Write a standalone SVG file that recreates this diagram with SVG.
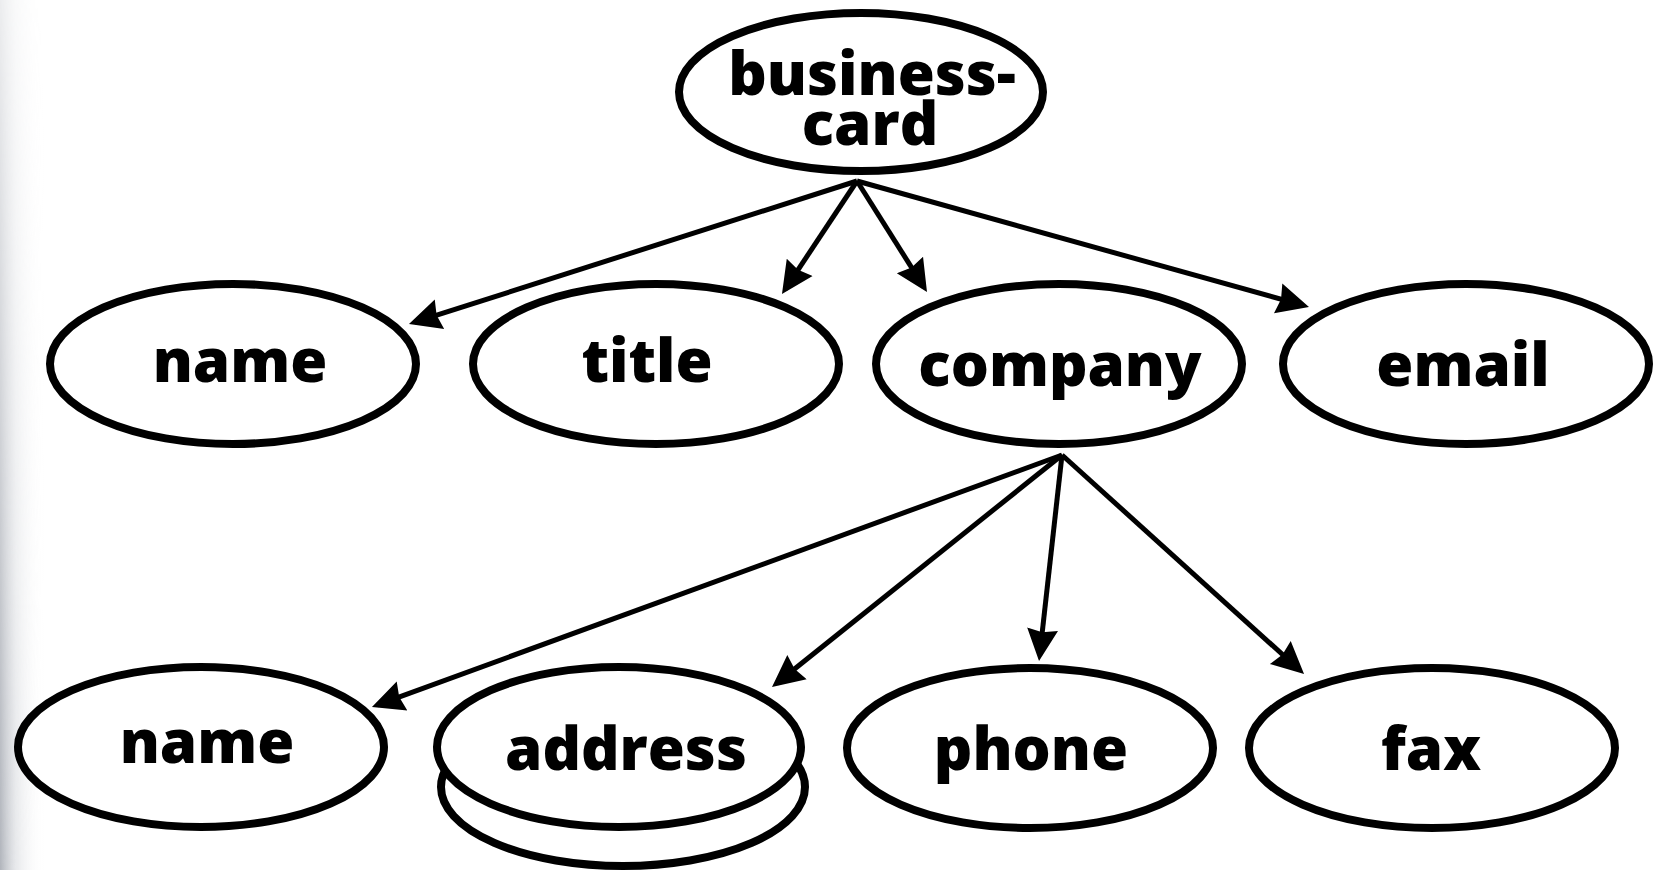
<svg xmlns="http://www.w3.org/2000/svg" width="1655" height="870" viewBox="0 0 1655 870">
  <defs>
    <style>
      .node ellipse { fill: #ffffff; stroke: #000000; stroke-width: 8; }
      .node text { font-family: "Open Sans", "Noto Sans", "DejaVu Sans", sans-serif; font-weight: 800; font-size: 60px; fill: #000000; text-anchor: middle; }
      .edge { stroke: #000000; stroke-width: 5; fill: none; marker-end: url(#arrow); }
    </style>
    <marker id="arrow" markerUnits="userSpaceOnUse" markerWidth="40" markerHeight="36" viewBox="0 -18 40 36" refX="26" refY="0" orient="auto">
      <path d="M0,-15.5 L32,0 L0,15.5 L3,0 Z" fill="#000000"/>
    </marker>
    <linearGradient id="edgeShade" x1="0" y1="0" x2="1" y2="0">
      <stop offset="0" stop-color="#a8acb4" stop-opacity="0.9"/>
      <stop offset="0.35" stop-color="#cfd2d7" stop-opacity="0.5"/>
      <stop offset="1" stop-color="#ffffff" stop-opacity="0"/>
    </linearGradient>
    <linearGradient id="edgeFade" x1="0" y1="0" x2="0" y2="1">
      <stop offset="0" stop-color="#ffffff" stop-opacity="0.25"/>
      <stop offset="1" stop-color="#ffffff" stop-opacity="1"/>
    </linearGradient>
    <mask id="edgeMask">
      <rect x="0" y="0" width="60" height="870" fill="url(#edgeFade)"/>
    </mask>
  </defs>
  <rect x="0" y="0" width="1655" height="870" fill="#ffffff"/>
  <rect x="0" y="0" width="45" height="870" fill="url(#edgeShade)" mask="url(#edgeMask)"/>

  <g id="connectors">
    <line class="edge" x1="857" y1="181" x2="414.7" y2="322.2"/>
    <line class="edge" x1="857" y1="181" x2="785.3" y2="289"/>
    <line class="edge" x1="857" y1="181" x2="923.8" y2="286.9"/>
    <line class="edge" x1="857" y1="181" x2="1303.2" y2="305.4"/>
    <line class="edge" x1="1062" y1="455" x2="377.6" y2="704.9"/>
    <line class="edge" x1="1062" y1="455" x2="776.7" y2="683.3"/>
    <line class="edge" x1="1062" y1="455" x2="1039.7" y2="655"/>
    <line class="edge" x1="1062" y1="455" x2="1299.6" y2="670"/>
  </g>

  <g id="business-card" class="node">
    <ellipse cx="861" cy="92" rx="182" ry="79"/>
    <text><tspan x="872" y="95">business-</tspan><tspan x="870" y="145">card</tspan></text>
  </g>
  <g id="name1" class="node">
    <ellipse cx="233" cy="364" rx="183" ry="80"/>
    <text x="240" y="382">name</text>
  </g>
  <g id="title" class="node">
    <ellipse cx="656" cy="364" rx="183" ry="80"/>
    <text x="647" y="382">title</text>
  </g>
  <g id="company" class="node">
    <ellipse cx="1059" cy="364" rx="183" ry="80"/>
    <text x="1060" y="386">company</text>
  </g>
  <g id="email" class="node">
    <ellipse cx="1466" cy="364" rx="183" ry="80"/>
    <text x="1463" y="386">email</text>
  </g>
  <g id="name2" class="node">
    <ellipse cx="201" cy="747" rx="183" ry="80"/>
    <text x="207" y="763">name</text>
  </g>
  <g id="address" class="node">
    <ellipse cx="623" cy="787" rx="182" ry="79"/>
    <ellipse cx="619" cy="747" rx="182" ry="80"/>
    <text x="626" y="770">address</text>
  </g>
  <g id="phone" class="node">
    <ellipse cx="1030" cy="748" rx="183" ry="80"/>
    <text x="1031" y="770">phone</text>
  </g>
  <g id="fax" class="node">
    <ellipse cx="1432" cy="748" rx="183" ry="80"/>
    <text x="1431" y="770">fax</text>
  </g>
</svg>
